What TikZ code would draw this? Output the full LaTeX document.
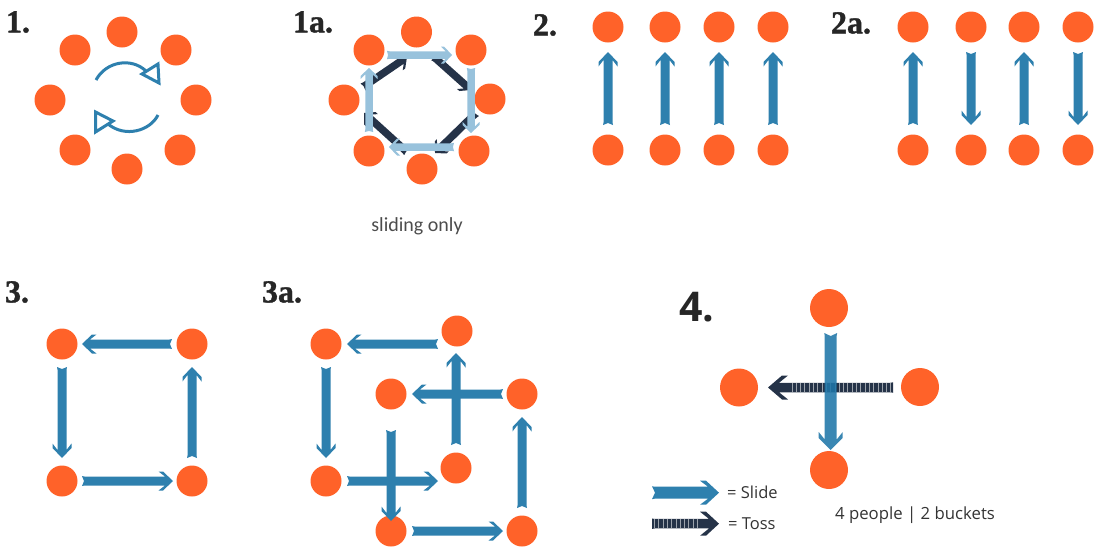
\documentclass[tikz,border=0pt]{standalone}
\usepackage{fontspec}
\setmainfont{Open Sans}
\newfontfamily\lblfont{Liberation Serif}[BoldFeatures={FakeBold=1.2}]
\newfontfamily\slfont{Carlito}
\usetikzlibrary{calc}
\definecolor{org}{HTML}{FF6229}
\definecolor{blu}{HTML}{2E80AE}
\definecolor{blud}{HTML}{1F76A8}
\definecolor{drk}{HTML}{253348}
\definecolor{lgt}{HTML}{98C2DC}
\tikzset{
 p/.style={circle,fill=org,minimum size=31pt,inner sep=0pt,outer sep=0pt},
 pb/.style={circle,fill=org,minimum size=38pt,inner sep=0pt,outer sep=0pt},
 lbl/.style={font=\lblfont\bfseries\fontsize{32}{32}\selectfont,text=black!85,inner sep=0pt},
 curve/.style={draw=blu,line width=3pt},
 sans/.style={text=black!80,inner sep=0pt},
}
% #1 draw options, #2 from, #3 to, #4 cut at start, #5 cut at end
% arrow sizes: \aw shaft width, \ah head length, \ahw head half width, \ab barb bluntness, \as barb sweep, \an tail notch, \at solid length of shaft behind the head (toss only, 0 = no ticks)
\newcommand\setarw[7]{\def\aw{#1}\def\ah{#2}\def\ahw{#3}\def\ab{#4}\def\as{#5}\def\an{#6}\def\at{#7}}
\newcommand\arw[5]{%
  \path let \p1=#2, \p2=#3, \n1={atan2(\y2-\y1,\x2-\x1)}, \n2={veclen(\x2-\x1,\y2-\y1)} in
    \pgfextra{\pgfmathsetmacro\myang{\n1}\xdef\myang{\myang}\pgfmathsetmacro\mylen{\n2}\xdef\mylen{\mylen}\xdef\myox{\x1}\xdef\myoy{\y1}};
  \begin{scope}[shift={(\myox,\myoy)},rotate=\myang]
    \pgfmathsetmacro\Ls{#4}\pgfmathsetmacro\Le{\mylen-#5}
    \pgfmathsetmacro\hw{\aw/2}\pgfmathsetmacro\Lb{\Le-\ah}
    \pgfmathsetmacro\Lc{\Lb+\ab}\pgfmathsetmacro\Li{\Lb+\as}\pgfmathsetmacro\Ln{\Ls+\an}
    \fill[#1] (\Ls,\hw+.5) -- (\Ls+2.5,\hw) -- (\Li,\hw) -- (\Lb,\ahw) -- (\Lc,\ahw) -- (\Le,0)
       -- (\Lc,-\ahw) -- (\Lb,-\ahw) -- (\Li,-\hw) -- (\Ls+2.5,-\hw) -- (\Ls,-\hw-.5) -- (\Ln,0) -- cycle;
    \ifdim\at pt>0pt
      \pgfmathsetmacro\Lt{\Lb-\at}
      \draw[white,opacity=.55,line width=\aw pt,dash pattern=on .6pt off 3.7pt] (\Ls+2,0) -- (\Lt,0);
    \fi
  \end{scope}}
\begin{document}
\begin{tikzpicture}[x=1pt,y=-1pt]
\useasboundingbox (0,0) rectangle (1094,547);
% labels
\node[lbl] (l1) at (18,22) {1.};
\node[lbl] (l1a) at (313,22) {1a.};
\node[lbl] (l2) at (545,25) {2.};
\node[lbl] (l2a) at (851,23) {2a.};
\node[lbl] (l3) at (17,292) {3.};
\node[lbl] (l3a) at (282,292) {3a.};
\node[font=\bfseries\fontsize{41}{41}\selectfont,text=black!85,inner sep=0pt] (l4) at (697,307) {4.};
% fig 1
\foreach \k/\x/\y in {a/122/32,b/75/50,c/176/50,d/50/100,e/196/100,f/75/150,g/180/150,h/127/169}
  \node[p] (o\k) at (\x,\y) {};
\coordinate (c1s) at (96,80);
\coordinate (c1e) at (146,71);
\coordinate (c2s) at (158,115);
\coordinate (c2e) at (108,124);
\draw[curve] (c1s) .. controls (106,61.5) and (131,57) .. (c1e);
\draw[curve,line join=miter] (142,74) -- (158,64) -- (159,83) -- cycle;
\draw[curve] (c2s) .. controls (150,131) and (125,138) .. (c2e);
\draw[curve,line join=miter] (113,121) -- (95.5,112) -- (95.5,132) -- cycle;
% fig 1a
\foreach \k/\x/\y in {a/416.5/32,b/369/50,c/471/50,d/344/100,e/490/99,f/369/151,g/474/151,h/422/169}
  \node[p] (q\k) at (\x,\y) {};
\coordinate (d1) at (363,87); \coordinate (d2) at (407,57);
\coordinate (d3) at (434,57); \coordinate (d4) at (471,90);
\coordinate (d5) at (476,113); \coordinate (d6) at (435,153);
\coordinate (d7) at (407,152); \coordinate (d8) at (364,113);
\coordinate (e1) at (387,55); \coordinate (e2) at (452,55);
\coordinate (e3) at (471,68); \coordinate (e4) at (471,133);
\coordinate (e5) at (454,147); \coordinate (e6) at (389,147);
\coordinate (e7) at (369,132); \coordinate (e8) at (369,68);
\setarw{7.5}{11}{8.5}{3}{4.5}{1}{0}
\arw{drk}{(d1)}{(d2)}{0}{0}
\arw{drk}{(d3)}{(d4)}{0}{0}
\arw{drk}{(d5)}{(d6)}{0}{0}
\arw{drk}{(d7)}{(d8)}{0}{0}
\arw{lgt}{(e1)}{(e2)}{0}{0}
\arw{lgt}{(e3)}{(e4)}{0}{0}
\arw{lgt}{(e5)}{(e6)}{0}{0}
\arw{lgt}{(e7)}{(e8)}{0}{0}
\node[font=\slfont\fontsize{20}{20}\selectfont,text=black!70,inner sep=0pt] (sl) at (417,226) {sliding only};
% regular slide arrows
\setarw{9}{14.5}{9.5}{4.5}{6.5}{2}{0}
% fig 2
\foreach \k/\x in {a/608,b/665,c/719,d/773}{
  \node[p] (t\k) at (\x,27) {};
  \node[p] (u\k) at (\x,150) {};
  \arw{blu}{(u\k)}{(t\k)}{25}{25}
}
% fig 2a
\foreach \k/\x in {a/913,b/971,c/1024,d/1078}{
  \node[p] (v\k) at (\x,27) {};
  \node[p] (w\k) at (\x,150) {};
}
\arw{blu}{(wa)}{(va)}{25}{25}
\arw{blu}{(vb)}{(wb)}{25}{25}
\arw{blu}{(wc)}{(vc)}{25}{25}
\arw{blu}{(vd)}{(wd)}{25}{25}
% fig 3
\node[p] (ra) at (62,344) {};
\node[p] (rb) at (192,344) {};
\node[p] (rc) at (62,481) {};
\node[p] (rd) at (192,481) {};
\arw{blu}{(rb)}{(ra)}{20}{20}
\arw{blu}{(ra)}{(rc)}{23}{23}
\arw{blu}{(rc)}{(rd)}{20}{19}
\arw{blu}{(rd)}{(rb)}{23}{23}
% fig 3a
\node[p] (sa) at (326,344) {};
\node[p] (sb) at (457,331) {};
\node[p] (sc) at (391,394) {};
\node[p] (sd) at (522,394) {};
\node[p] (se) at (326,481) {};
\node[p] (sf) at (456,468) {};
\node[p] (sg) at (391,531) {};
\node[p] (sh) at (522,531) {};
\arw{blu}{(sb |- sa)}{(sa)}{19}{21}
\arw{blu}{(sa)}{(se)}{23}{23}
\arw{blu}{(se)}{(sf |- se)}{21}{18}
\arw{blu}{(sc)}{(sg)}{36}{10}
\arw{blu}{(sg)}{(sh)}{21}{19}
\arw{blu}{(sh)}{(sd)}{23}{23}
\arw{blu}{(sf)}{(sf |- sb)}{23}{22}
\arw{blu}{(sd)}{(sc)}{19}{21}
% fig 4
\node[pb] (xa) at (829,308) {};
\node[pb] (xb) at (739,387.5) {};
\node[pb] (xc) at (920,387) {};
\node[pb] (xd) at (829,470) {};
\coordinate (xat) at (830.7,308);
\coordinate (xdt) at (830.7,470);
\setarw{9.5}{20}{12}{6}{9}{0}{1}
\arw{drk}{(xc |- xb)}{(xb)}{27}{29}
\setarw{12}{18}{12}{6}{7.5}{3}{0}
\arw{blud,opacity=.88}{(xat)}{(xdt)}{25}{20}
% legend
\coordinate (ls1) at (652,492.7); \coordinate (le1) at (719,492.7);
\coordinate (ls2) at (652,523.7); \coordinate (le2) at (719,523.7);
\setarw{12}{19}{12}{6}{8}{3}{0}
\arw{blu}{(ls1)}{(le1)}{0}{0}
\setarw{9.5}{19}{12}{6}{9}{0}{1}
\arw{drk}{(ls2)}{(le2)}{0}{0}
\node[font=\fontsize{16.5}{16.5}\selectfont,sans,anchor=west] (ts) at (727,492.5) {= Slide};
\node[font=\fontsize{16.5}{16.5}\selectfont,sans,anchor=west] (tt) at (728,523.5) {= Toss};
\node[font=\fontsize{16.75}{16.75}\selectfont,sans] (tb) at (915,515) {4 people | 2 buckets};
\end{tikzpicture}
\end{document}
